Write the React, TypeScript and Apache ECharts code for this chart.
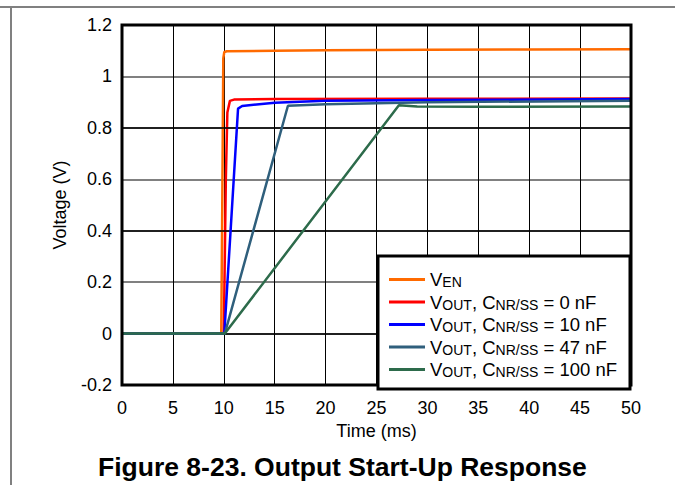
import React, { useEffect, useRef } from "react";
import * as echarts from "echarts";

const seriesNames = ["VEN", "V0", "V10", "V47", "V100"];
const seriesLabels = [
  "{m|V}{s|EN}",
  "{m|V}{s|OUT}{m|, C}{s|NR/SS}{m| = 0 nF}",
  "{m|V}{s|OUT}{m|, C}{s|NR/SS}{m| = 10 nF}",
  "{m|V}{s|OUT}{m|, C}{s|NR/SS}{m| = 47 nF}",
  "{m|V}{s|OUT}{m|, C}{s|NR/SS}{m| = 100 nF}",
];
const seriesColors = ["#FF6A00", "#FF0000", "#0000FF", "#2F5F7C", "#2D6B4B"];

const enTime = [0, 9.75, 9.85, 9.95, 10.05, 10.3, 15, 20, 30, 40, 50];
const enVolt = [0, 0, 0.5, 1.07, 1.095, 1.098, 1.1, 1.102, 1.104, 1.105, 1.106];

const v0Time = [0, 10.0, 10.2, 10.35, 10.6, 11, 15, 30, 50];
const v0Volt = [0, 0, 0.6, 0.86, 0.905, 0.91, 0.912, 0.913, 0.914];

const v10Time = [0, 10.05, 11.4, 11.8, 15, 20, 30, 50];
const v10Volt = [0, 0, 0.875, 0.885, 0.898, 0.905, 0.908, 0.912];

const v47Time = [0, 10.1, 16.3, 20, 30, 50];
const v47Volt = [0, 0, 0.886, 0.892, 0.9, 0.905];

const v100Time = [0, 10.1, 27.2, 29, 35, 50];
const v100Volt = [0, 0, 0.888, 0.883, 0.882, 0.883];

const xTicks = [0, 50, 5];
const yTicks = [-0.2, 1.2, 0.2];
const blackGridValues = [0, 0.4, 0.8];

const allTimes = [enTime, v0Time, v10Time, v47Time, v100Time];
const allVolts = [enVolt, v0Volt, v10Volt, v47Volt, v100Volt];

const FONT = "'Liberation Sans', Arial, Helvetica, sans-serif";

export default function App() {
  const ref = useRef<HTMLDivElement>(null);
  useEffect(() => {
    if (!ref.current) return;
    const chart = echarts.init(ref.current, undefined, { renderer: "svg" });
    const series: any[] = seriesNames.map((name, i) => ({
      name,
      type: "line",
      data: allTimes[i].map((t, j) => [t, allVolts[i][j]]),
      symbol: "none",
      lineStyle: { color: seriesColors[i], width: 2.5 },
      itemStyle: { color: seriesColors[i] },
      z: 3 + i,
    }));
    series.unshift({
      name: "grid",
      type: "line",
      data: [],
      z: 2,
      silent: true,
      markLine: {
        silent: true,
        symbol: "none",
        label: { show: false },
        lineStyle: { color: "#000", width: 1.5, type: "solid" },
        data: blackGridValues.map((v) => ({ yAxis: v })),
      },
    });
    chart.setOption({
      animation: false,
      backgroundColor: "#fff",
      textStyle: { fontFamily: FONT, color: "#000" },
      title: {
        text: "Figure 8-23. Output Start-Up Response",
        left: 93,
        top: 448,
        textStyle: { fontFamily: FONT, fontSize: 26.5, fontWeight: "bold", color: "#000" },
      },
      graphic: [
        { type: "line", shape: { x1: 0, y1: 7, x2: 675, y2: 7 }, style: { stroke: "#808080", lineWidth: 2 } },
        { type: "line", shape: { x1: 11, y1: 7, x2: 11, y2: 485 }, style: { stroke: "#808080", lineWidth: 2 } },
      ],
      grid: {
        left: 122,
        right: 44,
        top: 25,
        bottom: 100,
        show: true,
        borderColor: "#000",
        borderWidth: 3,
        backgroundColor: "transparent",
        z: 10,
      },
      legend: {
        data: seriesNames,
        orient: "vertical",
        left: 378,
        top: 256,
        icon: "rect",
        itemWidth: 36,
        itemHeight: 3,
        itemGap: 1.5,
        padding: [12, 13, 10, 11],
        backgroundColor: "#fff",
        borderColor: "#000",
        borderWidth: 3,
        borderRadius: 0,
        formatter: (name: string) => seriesLabels[seriesNames.indexOf(name)],
        textStyle: {
          fontFamily: FONT,
          rich: {
            m: { fontFamily: FONT, fontSize: 18.5, color: "#000", lineHeight: 19, padding: [0, 0, 0, 0] },
            s: { fontFamily: FONT, fontSize: 14, color: "#000", lineHeight: 19, verticalAlign: "bottom", padding: [7, 0, 0, 0] },
          },
        },
        z: 20,
      },
      xAxis: {
        type: "value",
        min: xTicks[0],
        max: xTicks[1],
        interval: xTicks[2],
        name: "Time (ms)",
        nameLocation: "middle",
        nameGap: 36,
        nameTextStyle: { fontFamily: FONT, fontSize: 18, color: "#000" },
        axisLine: { show: false },
        axisTick: { show: false },
        axisLabel: { fontFamily: FONT, fontSize: 18, color: "#000", margin: 14 },
        splitLine: { show: true, lineStyle: { color: "#000", width: 1 } },
      },
      yAxis: {
        type: "value",
        min: yTicks[0],
        max: yTicks[1],
        interval: yTicks[2],
        name: "Voltage (V)",
        nameLocation: "middle",
        nameGap: 53,
        nameTextStyle: { fontFamily: FONT, fontSize: 18, color: "#000" },
        axisLine: { show: false },
        axisTick: { show: false },
        axisLabel: {
          fontFamily: FONT,
          fontSize: 18,
          color: "#000",
          margin: 10,
          formatter: (v: number) => String(Number(v.toFixed(1))),
        },
        splitLine: { show: true, lineStyle: { color: "#808080", width: 2 } },
      },
      series,
    });
    return () => chart.dispose();
  }, []);
  return <div ref={ref} style={{ width: 675, height: 485, position: "absolute", left: 0, top: 0 }} />;
}
